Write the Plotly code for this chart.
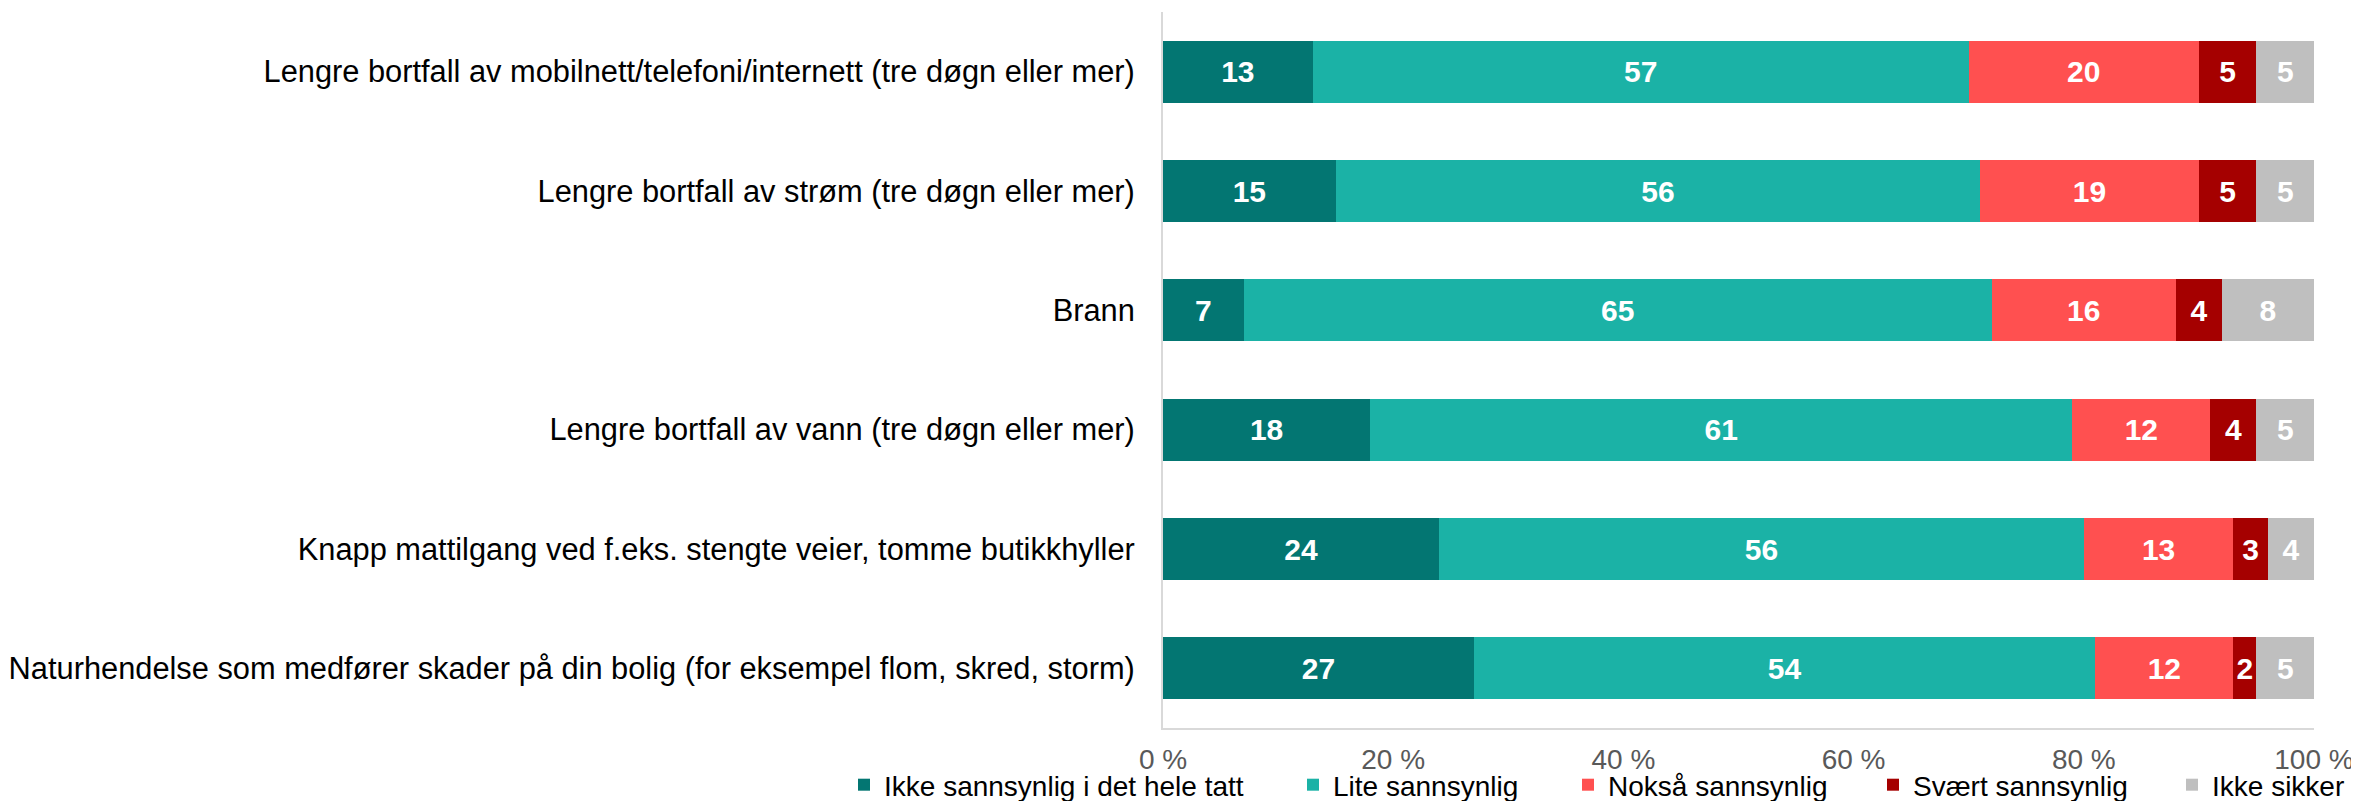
import plotly.graph_objects as go

# Kategorier (ovenfra og ned) og andeler i prosent
categories = [
    'Lengre bortfall av mobilnett/telefoni/internett (tre døgn eller mer)',
    'Lengre bortfall av strøm (tre døgn eller mer)',
    'Brann',
    'Lengre bortfall av vann (tre døgn eller mer)',
    'Knapp mattilgang ved f.eks. stengte veier, tomme butikkhyller',
    'Naturhendelse som medfører skader på din bolig (for eksempel flom, skred, storm)',
]
ikke_sannsynlig = [13, 15, 7, 18, 24, 27]
lite_sannsynlig = [57, 56, 65, 61, 56, 54]
noksa_sannsynlig = [20, 19, 16, 12, 13, 12]
svaert_sannsynlig = [5, 5, 4, 4, 3, 2]
ikke_sikker = [5, 5, 8, 5, 4, 5]

series_names = ['Ikke sannsynlig i det hele tatt', 'Lite sannsynlig', 'Nokså sannsynlig',
                'Svært sannsynlig', 'Ikke sikker']
series_values = [ikke_sannsynlig, lite_sannsynlig, noksa_sannsynlig, svaert_sannsynlig, ikke_sikker]
colors = ['#037672', '#1bb2a6', '#ff5050', '#a50000', '#bfbfbf']

x_ticks = [0, 20, 40, 60, 80, 100]
x_ticktext = ['0 %', '20 %', '40 %', '60 %', '80 %', '100 %']

# venstre kant av hver legendeoppføring (piksler på siden)
legend_left_px = [862, 1311, 1586, 1891, 2190]

FONT = 'Liberation Sans, Arial, sans-serif'
PAGE_PAD = 8  # standardmarg rundt <body> i nettleseren
W, H = 2359 - PAGE_PAD, 801 - PAGE_PAD
L, R, T, B = 1163 - PAGE_PAD, 45, 12 - PAGE_PAD, 73
PW, PH = W - L - R, H - T - B

fig = go.Figure()
for i, (name, vals, col) in enumerate(zip(series_names, series_values, colors)):
    leg = 'legend' if i == 0 else 'legend%d' % (i + 1)
    fig.add_trace(go.Bar(
        y=categories, x=vals, name=name, orientation='h',
        marker=dict(color=col, line=dict(width=0)),
        text=vals, texttemplate='%{text}', textposition='inside',
        insidetextanchor='middle', textangle=0,
        textfont=dict(family=FONT, size=30, color='white', weight='bold'),
        legend=leg, showlegend=True, hoverinfo='skip',
    ))

# en egen legende per serie, slik at plasseringen følger originalen
layout_legends = {}
for i, px in enumerate(legend_left_px):
    key = 'legend' if i == 0 else 'legend%d' % (i + 1)
    layout_legends[key] = dict(
        xref='paper', yref='paper',
        x=(px - 18 - 1163) / PW, xanchor='left',
        y=-57 / PH, yanchor='middle',
        orientation='h', bgcolor='rgba(0,0,0,0)',
        font=dict(family=FONT, size=28, color='black'),
    )

fig.update_layout(
    barmode='stack', bargap=0.48,
    width=W, height=H,
    margin=dict(l=L, r=R, t=T, b=B, autoexpand=False),
    paper_bgcolor='white', plot_bgcolor='white',
    font=dict(family=FONT),
    uniformtext=dict(minsize=30, mode='show'),
    **layout_legends,
)
fig.update_xaxes(
    range=[0, 100], tickmode='array', tickvals=x_ticks, ticktext=x_ticktext,
    tickfont=dict(family=FONT, size=28, color='#595959'),
    showgrid=False, zeroline=False, showline=True, linecolor='#d9d9d9', linewidth=2,
    ticks='', ticklabelstandoff=5, automargin=False,
)
fig.update_yaxes(
    autorange='reversed', showgrid=False, zeroline=False,
    showline=True, linecolor='#d9d9d9', linewidth=2,
    tickfont=dict(family=FONT, size=30.8, color='black'),
    ticks='', ticklabelstandoff=20, automargin=False,
)

fig.write_html('out.html')
